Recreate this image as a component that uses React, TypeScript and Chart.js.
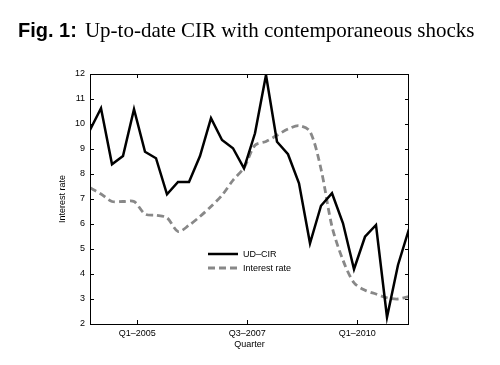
import React, { useEffect, useRef } from "react";
import { Chart, registerables } from "chart.js";

Chart.register(...registerables);

// Quarter positions (index of each quarterly observation)
const quarterPos = [0, 1, 2, 3, 4, 5, 6, 7, 8, 9, 10, 11, 12, 13, 14, 15, 16, 17, 18, 19, 20, 21, 22, 23, 24, 25, 26, 27, 28, 29];

const udCir = [9.76, 10.63, 8.39, 8.72, 10.59, 8.89, 8.63, 7.19, 7.68, 7.68, 8.72, 10.23, 9.36, 9.03, 8.23, 9.63, 11.96, 9.29, 8.79, 7.63, 5.23, 6.73, 7.23, 6.03, 4.19, 5.49, 5.96, 2.27, 4.36, 5.8];

const interestRate = [7.45, 7.2, 6.9, 6.9, 6.9, 6.4, 6.35, 6.25, 5.7, 5.95, 6.3, 6.7, 7.15, 7.75, 8.25, 9.15, 9.3, 9.55, 9.8, 9.93, 9.7, 8.2, 5.9, 4.55, 3.65, 3.35, 3.2, 3.05, 3.0, 3.1];

const xTickPos = [4.3, 14.3, 24.3];
const xTickLabels = ["Q1\u20132005", "Q3\u20132007", "Q1\u20132010"];
const yTicks = [2, 3, 4, 5, 6, 7, 8, 9, 10, 11, 12];

const seriesLabels = ["UD\u2013CIR", "Interest rate"];

const SANS = "'Liberation Sans', Arial, sans-serif";
const GREY = "#888888";

const boxPlugin = {
  id: "boxPlugin",
  afterDatasetsDraw(chart: any) {
    const { ctx, chartArea, scales } = chart;
    const { left, right, top, bottom } = chartArea;
    ctx.save();
    ctx.strokeStyle = "#000";
    ctx.lineWidth = 1;
    ctx.beginPath();
    ctx.rect(Math.round(left) + 0.5, Math.round(top) + 0.5, Math.round(right - left) - 1, Math.round(bottom - top));
    ctx.stroke();
    const tl = 4;
    ctx.beginPath();
    for (const v of yTicks) {
      const y = Math.round(scales.y.getPixelForValue(v)) + 0.5;
      ctx.moveTo(left, y);
      ctx.lineTo(left + tl, y);
      ctx.moveTo(right, y);
      ctx.lineTo(right - tl, y);
    }
    for (const v of xTickPos) {
      const x = Math.round(scales.x.getPixelForValue(v)) + 0.5;
      ctx.moveTo(x, bottom);
      ctx.lineTo(x, bottom - tl);
      ctx.moveTo(x, top);
      ctx.lineTo(x, top + tl);
    }
    ctx.stroke();

    // legend
    const lx = left + 118;
    const ly = top + 180;
    const rowH = 14;
    ctx.font = `9px ${SANS}`;
    ctx.fillStyle = "#000";
    ctx.textBaseline = "middle";
    ctx.textAlign = "left";
    const ds = chart.data.datasets;
    ds.forEach((d: any, i: number) => {
      const y = ly + i * rowH;
      ctx.beginPath();
      ctx.strokeStyle = d.borderColor;
      ctx.lineWidth = d.borderWidth;
      ctx.setLineDash(d.borderDash || []);
      ctx.moveTo(lx, y);
      ctx.lineTo(lx + 30, y);
      ctx.stroke();
      ctx.setLineDash([]);
      ctx.fillText(d.label, lx + 35, y + 0.5);
    });
    ctx.restore();
  },
};

export default function App() {
  const ref = useRef<HTMLCanvasElement>(null);
  useEffect(() => {
    if (!ref.current) return;
    const chart = new Chart(ref.current, {
      type: "line",
      data: {
        datasets: [
          {
            label: seriesLabels[0],
            data: quarterPos.map((x, i) => ({ x, y: udCir[i] })),
            borderColor: "#000000",
            borderWidth: 2.5,
            pointRadius: 0,
            tension: 0,
          },
          {
            label: seriesLabels[1],
            data: quarterPos.map((x, i) => ({ x, y: interestRate[i] })),
            borderColor: GREY,
            borderWidth: 2.8,
            borderDash: [7, 4],
            pointRadius: 0,
            tension: 0.3,
          },
        ],
      },
      options: {
        responsive: false,
        animation: false,
        devicePixelRatio: 1,
        layout: { padding: { top: 74, right: 91, left: 0, bottom: 0 } },
        plugins: {
          legend: { display: false },
          tooltip: { enabled: false },
          title: { display: false },
        },
        scales: {
          x: {
            type: "linear",
            min: 0,
            max: 29,
            grid: { display: false, drawTicks: false },
            border: { display: false },
            afterFit(s: any) {
              s.height = 41;
            },
            afterBuildTicks(s: any) {
              s.ticks = xTickPos.map((v) => ({ value: v }));
            },
            ticks: {
              autoSkip: false,
              maxRotation: 0,
              padding: 4,
              color: "#000",
              font: { family: SANS, size: 9 },
              callback: (_v: any, i: number) => xTickLabels[i],
            },
            title: {
              display: true,
              text: "Quarter",
              color: "#000",
              font: { family: SANS, size: 9 },
              padding: { top: 0, bottom: 15 },
            },
          },
          y: {
            min: 2,
            max: 12,
            grid: { display: false, drawTicks: false },
            border: { display: false },
            afterFit(s: any) {
              s.width = 90;
            },
            afterBuildTicks(s: any) {
              s.ticks = yTicks.map((v) => ({ value: v }));
            },
            ticks: {
              padding: 5,
              color: "#000",
              font: { family: SANS, size: 9 },
              callback: (v: any) => String(v),
            },
            title: {
              display: true,
              text: "Interest rate",
              color: "#000",
              font: { family: SANS, size: 9 },
              padding: { top: 57, bottom: 0 },
            },
          },
        },
      },
      plugins: [boxPlugin],
    } as any);
    return () => chart.destroy();
  }, []);

  return (
    <div style={{ position: "fixed", left: 0, top: 0, width: 500, height: 365, background: "#fff" }}>
      <canvas ref={ref} width={500} height={365} style={{ position: "absolute", left: 0, top: 0 }} />
      <div
        style={{
          position: "absolute",
          left: 18,
          top: 20,
          whiteSpace: "nowrap",
          fontSize: 20,
          lineHeight: 1,
          color: "#000",
        }}
      >
        <span style={{ fontFamily: SANS, fontWeight: "bold" }}>Fig. 1:</span>
        <span style={{ fontFamily: "'Liberation Serif', 'Times New Roman', serif", fontSize: 21, marginLeft: 8 }}>
          Up-to-date CIR with contemporaneous shocks
        </span>
      </div>
    </div>
  );
}
